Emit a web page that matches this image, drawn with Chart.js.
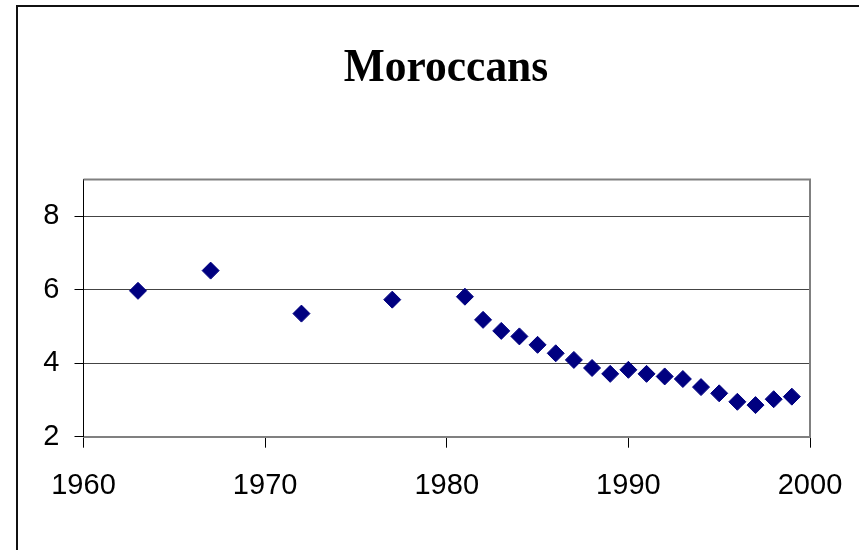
<!DOCTYPE html>
<html>
<head>
<meta charset="utf-8">
<script src="https://cdn.jsdelivr.net/npm/chart.js@4/dist/chart.umd.min.js"></script>
<style>
  html, body { margin: 0; padding: 0; background: #fff; overflow: hidden; }
  #wrap { position: relative; width: 859px; height: 550px; }
  #frame { position: absolute; left: 16px; top: 5px; width: 900px; height: 600px;
           border-left: 2px solid #111; border-top: 2px solid #111; box-sizing: border-box; }
  #title { position: absolute; left: 246px; width: 400px; top: 42px; text-align: center;
           font: bold 47px/1 'Liberation Serif', 'Times New Roman', serif; color: #000;
           transform: scaleX(0.925); transform-origin: 200px 0; white-space: nowrap; }
  canvas { position: absolute; left: 0; top: 0; }
</style>
</head>
<body>
<div id="wrap">
  <div id="frame"></div>
  <canvas id="c" width="859" height="550"></canvas>
  <div id="title">Moroccans</div>
</div>
<script>
// data
var years = [1963, 1967, 1972, 1977, 1981, 1982, 1983, 1984, 1985, 1986, 1987, 1988,
             1989, 1990, 1991, 1992, 1993, 1994, 1995, 1996, 1997, 1998, 1999];
var values = [5.97, 6.52, 5.35, 5.73, 5.81, 5.18, 4.88, 4.73, 4.50, 4.27, 4.09, 3.87,
              3.71, 3.82, 3.71, 3.64, 3.57, 3.35, 3.18, 2.95, 2.86, 3.02, 3.09];
var xTicks = [1960, 1970, 1980, 1990, 2000];
var yTicks = [2, 4, 6, 8];

var tickFont = { family: "'Liberation Sans', Arial, sans-serif", size: 29 };

// plot-area frame (top + right edges, Excel style)
var frameLines = {
  id: "frameLines",
  afterDraw: function (chart) {
    var a = chart.chartArea, ctx = chart.ctx;
    ctx.save();
    ctx.strokeStyle = "#808080";
    ctx.lineWidth = 2;
    ctx.beginPath();
    ctx.moveTo(a.left, a.top);
    ctx.lineTo(a.right, a.top);
    ctx.lineTo(a.right, a.bottom);
    ctx.stroke();
    ctx.restore();
  }
};

new Chart(document.getElementById("c"), {
  type: "scatter",
  data: {
    datasets: [{
      data: years.map(function (y, i) { return { x: y, y: values[i] }; }),
      pointStyle: "rectRot",
      pointRadius: 8.5,
      pointHoverRadius: 8.5,
      backgroundColor: "#000080",
      borderColor: "#000080",
      borderWidth: 1
    }]
  },
  options: {
    responsive: false,
    animation: false,
    layout: { padding: { left: 0, right: 49, top: 179.5, bottom: 0 } },
    plugins: {
      legend: { display: false },
      tooltip: { enabled: false },
      title: { display: false }
    },
    scales: {
      x: {
        type: "linear",
        min: 1960, max: 2000,
        afterBuildTicks: function (s) { s.ticks = xTicks.map(function (v) { return { value: v }; }); },
        afterFit: function (s) { s.height = 113.3; s.paddingLeft = 0; s.paddingRight = 0; },
        grid: { drawOnChartArea: false, drawTicks: true, tickLength: 11, tickColor: "#000" },
        border: { color: "#808080", width: 2 },
        ticks: { color: "#000", font: tickFont, padding: 21, maxRotation: 0,
                 callback: function (v) { return String(v); } }
      },
      y: {
        min: 2, max: 9,
        afterBuildTicks: function (s) { s.ticks = yTicks.map(function (v) { return { value: v }; }); },
        afterFit: function (s) { s.width = 83.5; s.paddingTop = 0; s.paddingBottom = 0; },
        grid: { color: "#444", lineWidth: 1, drawTicks: true, tickLength: 9, tickColor: "#000" },
        border: { color: "#000", width: 1 },
        ticks: { color: "#000", font: tickFont, padding: 15,
                 callback: function (v) { return String(v); } }
      }
    }
  },
  plugins: [frameLines]
});
</script>
</body>
</html>
